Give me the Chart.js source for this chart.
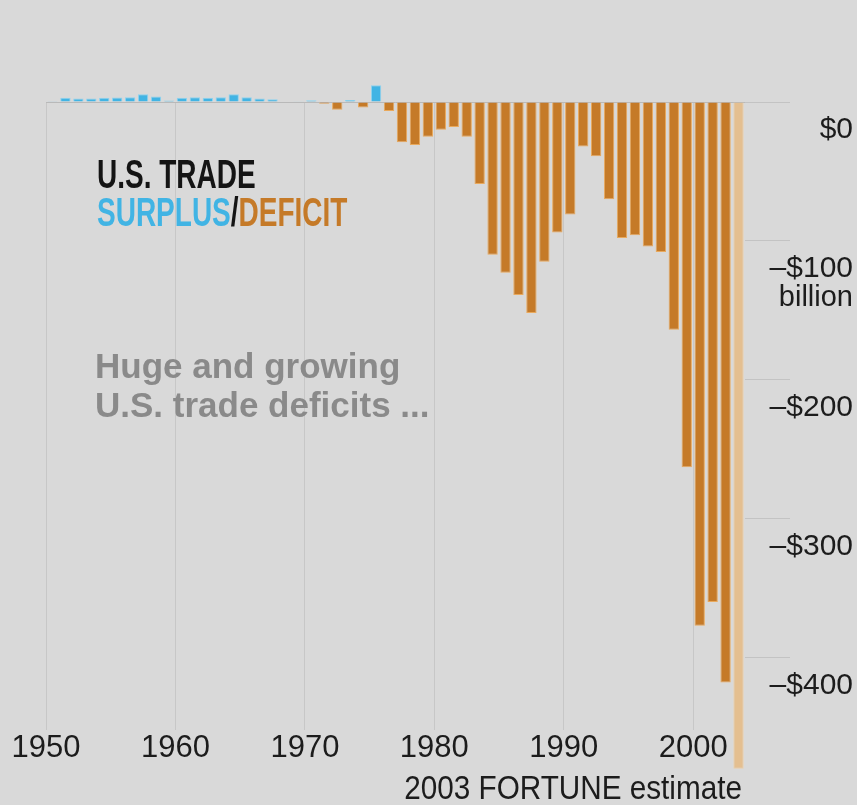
<!DOCTYPE html>
<html>
<head>
<meta charset="utf-8">
<script src="https://cdn.jsdelivr.net/npm/chart.js@4.4.0/dist/chart.umd.min.js"></script>
<style>
  html, body { margin: 0; padding: 0; background: #d9d9d9; }
  canvas { display: block; }
</style>
</head>
<body>
<canvas id="tradeChart" width="857" height="805"></canvas>
<script>
// years on the category axis
const years = [
  1950, 1951, 1952, 1953, 1954, 1955, 1956, 1957, 1958, 1959,
  1960, 1961, 1962, 1963, 1964, 1965, 1966, 1967, 1968, 1969,
  1970, 1971, 1972, 1973, 1974, 1975, 1976, 1977, 1978, 1979,
  1980, 1981, 1982, 1983, 1984, 1985, 1986, 1987, 1988, 1989,
  1990, 1991, 1992, 1993, 1994, 1995, 1996, 1997, 1998, 1999,
  2000, 2001, 2002, 2003
];

// trade balance, $ billion (2003 = FORTUNE estimate)
const tradeBalance = [
  0.6, 3, 2.5, 2.5, 3, 3.3, 3.5, 5.5, 4, 1,
  3, 3.5, 3, 3.5, 5.5, 3.5, 2.5, 2, 0.3, 0.2,
  1.2, -1.3, -5.5, 1.5, -4, 12, -6.5, -29, -31, -25,
  -20, -18, -25, -59, -110, -123, -139, -152, -115, -94,
  -81, -32, -39, -70, -98, -96, -104, -108, -164, -263,
  -377, -360, -418, -480
];

const decadeTicks = [1950, 1960, 1970, 1980, 1990, 2000];
const yTicks = [0, -100, -200, -300, -400];
const yTickLabels = ['$0', '\u2013$100', '\u2013$200', '\u2013$300', '\u2013$400'];

const SURPLUS = '#41b4e4';
const DEFICIT = '#c57a28';
const ESTIMATE = '#e4bf90';

const lastIdx = tradeBalance.length - 1;
const barColors = tradeBalance.map((v, i) => i === lastIdx ? ESTIMATE : (v >= 0 ? SURPLUS : DEFICIT));
const edgeColors = tradeBalance.map((v, i) => i === lastIdx ? '#ecd0aa' : (v >= 0 ? '#8fd3f0' : '#e9a95c'));

function drawText(ctx, text, x, y, font, color, sx, align) {
  ctx.save();
  ctx.font = font;
  ctx.fillStyle = color;
  ctx.textBaseline = 'alphabetic';
  ctx.textAlign = 'left';
  const w = ctx.measureText(text).width * sx;
  let left = x;
  if (align === 'right') left = x - w;
  ctx.translate(left, y);
  ctx.scale(sx, 1);
  ctx.fillText(text, 0, 0);
  ctx.restore();
  return w;
}

const bgPlugin = {
  id: 'bg',
  beforeDraw(chart) {
    const ctx = chart.ctx;
    ctx.save();
    ctx.fillStyle = '#d9d9d9';
    ctx.fillRect(0, 0, chart.width, chart.height);
    ctx.restore();
  }
};

const notesPlugin = {
  id: 'notes',
  afterDraw(chart) {
    const ctx = chart.ctx;
    const titleFont = 'bold 40px "Liberation Sans", Arial, sans-serif';
    drawText(ctx, 'U.S. TRADE', 97, 188, titleFont, '#141414', 0.7);
    let x = 97;
    x += drawText(ctx, 'SURPLUS', x, 226, titleFont, SURPLUS, 0.7);
    x += drawText(ctx, '/', x, 226, titleFont, '#141414', 0.7);
    drawText(ctx, 'DEFICIT', x, 226, titleFont, DEFICIT, 0.7);

    const noteFont = 'bold 35px "Liberation Sans", Arial, sans-serif';
    drawText(ctx, 'Huge and growing', 95, 378, noteFont, '#8a8a8a', 1);
    drawText(ctx, 'U.S. trade deficits ...', 95, 417, noteFont, '#8a8a8a', 1);

    const y = chart.scales.y;
    drawText(ctx, 'billion', 853, y.getPixelForValue(-100) + 28 + 37,
      '29px "Liberation Sans", Arial, sans-serif', '#1c1c1c', 1, 'right');

    drawText(ctx, '2003 FORTUNE estimate', 742, 799,
      '33px "Liberation Sans", Arial, sans-serif', '#1c1c1c', 0.9, 'right');
  }
};

new Chart(document.getElementById('tradeChart'), {
  type: 'bar',
  data: {
    labels: years,
    datasets: [{
      data: tradeBalance,
      backgroundColor: barColors,
      borderColor: edgeColors,
      borderWidth: 1,
      barPercentage: 0.8,
      categoryPercentage: 1,
      clip: false
    }]
  },
  options: {
    responsive: false,
    animation: false,
    layout: { padding: { left: 46, right: 4, top: 102, bottom: 38 } },
    plugins: {
      legend: { display: false },
      tooltip: { enabled: false }
    },
    scales: {
      x: { display: false, offset: true },
      x2: {
        type: 'linear',
        position: 'bottom',
        bounds: 'data',
        offset: false,
        min: 1950,
        max: 2004,
        afterBuildTicks: s => { s.ticks = decadeTicks.map(v => ({ value: v })); },
        grid: { offset: false, color: '#c7c7c7', lineWidth: 1, drawTicks: false },
        border: { display: false },
        ticks: {
          padding: 0,
          color: '#1c1c1c',
          font: { family: '"Liberation Sans", Arial, sans-serif', size: 31 },
          callback: v => String(v)
        }
      },
      y: {
        position: 'right',
        min: -452,
        max: 0,
        afterBuildTicks: s => { s.ticks = yTicks.map(v => ({ value: v })); },
        afterFit: s => { s.width = 108; },
        grid: {
          color: c => (c.tick && c.tick.value === 0) ? '#b9b9b9' : 'rgba(0,0,0,0)',
          tickColor: '#c3c3c3',
          tickLength: 45,
          lineWidth: 1
        },
        border: { display: false },
        ticks: {
          labelOffset: 28,
          crossAlign: 'far',
          padding: 0,
          color: '#1c1c1c',
          font: { family: '"Liberation Sans", Arial, sans-serif', size: 30 },
          callback: v => yTickLabels[yTicks.indexOf(v)]
        }
      }
    }
  },
  plugins: [bgPlugin, notesPlugin]
});
</script>
</body>
</html>
